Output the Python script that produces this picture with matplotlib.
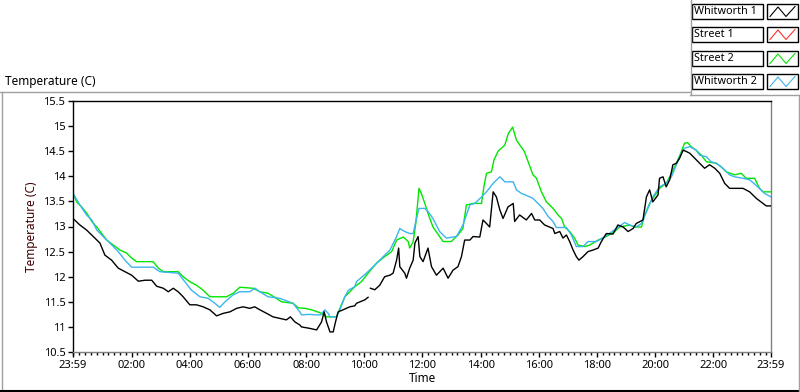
import numpy as np
import matplotlib
matplotlib.use('Agg')
import matplotlib.pyplot as plt
from matplotlib.lines import Line2D
from matplotlib.ticker import FixedLocator, MultipleLocator

plt.rcParams['font.family'] = ['Noto Sans', 'DejaVu Sans']

# hours of the day (23:59 of the day before = -1/60)
w1_t = [-0.017, 0.22, 0.45, 0.68, 0.91, 1.08, 1.31, 1.54, 1.77, 2.0, 2.23, 2.46, 2.69, 2.86, 3.09,
        3.26, 3.43, 3.60, 3.77, 4.0, 4.23, 4.46, 4.69, 4.92, 5.15, 5.38, 5.61, 5.83, 6.06, 6.23,
        6.41, 6.64, 6.86, 7.09, 7.32, 7.46, 7.61, 7.78, 7.84, 8.13, 8.36, 8.53, 8.62, 8.70, 8.82,
        8.93, 9.01, 9.10, 9.27, 9.50, 9.67, 9.73, 10.02, 10.13, 10.17, 10.21, 10.36, 10.53, 10.70,
        10.88, 10.99, 11.11, 11.18, 11.22, 11.39, 11.45, 11.56, 11.68, 11.74, 11.85, 11.91, 12.02,
        12.19, 12.31, 12.48, 12.71, 12.88, 13.05, 13.22, 13.34, 13.45, 13.63, 13.74, 13.97, 14.08,
        14.20, 14.31, 14.43, 14.54, 14.66, 14.77, 14.94, 15.12, 15.17, 15.34, 15.57, 15.75, 15.86,
        16.03, 16.2, 16.49, 16.55, 16.72, 16.83, 16.95, 17.06, 17.18, 17.29, 17.38, 17.52, 17.69,
        17.86, 18.04, 18.15, 18.32, 18.55, 18.72, 18.90, 19.07, 19.24, 19.35, 19.58, 19.70, 19.81,
        19.92, 20.10, 20.15, 20.27, 20.38, 20.50, 20.61, 20.73, 20.84, 20.96, 21.05, 21.19, 21.36,
        21.53, 21.70, 21.87, 22.05, 22.22, 22.39, 22.56, 22.73, 23.02, 23.25, 23.48, 23.71, 23.82,
        23.98]
w1_v = [13.16, 13.03, 12.93, 12.80, 12.67, 12.43, 12.33, 12.17, 12.10, 12.03, 11.91, 11.93, 11.93, 11.81, 11.77,
        11.70, 11.77, 11.70, 11.60, 11.44, 11.44, 11.40, 11.34, 11.22, 11.27, 11.30, 11.37, 11.40, 11.37, 11.40,
        11.34, 11.27, 11.20, 11.17, 11.14, 11.20, 11.10, 11.04, 11.00, 10.97, 10.94, 11.10, 11.30, 11.10, 10.90,
        10.90, 11.10, 11.30, 11.34, 11.40, 11.42, 11.47, 11.54, 11.59, np.nan, 11.77, 11.74, 11.83, 12.00,
        12.03, 12.07, 12.33, 12.57, 12.20, 12.07, 11.97, 12.17, 12.33, 12.67, 12.80, 12.40, 12.30,
        12.57, 12.20, 12.03, 12.17, 11.97, 12.13, 12.20, 12.40, 12.73, 12.73, 12.80, 12.79, 13.13,
        13.06, 12.99, 13.69, 13.59, 13.33, 13.16, 13.39, 13.46, 13.10, 13.23, 13.13, 13.26, 13.13,
        13.13, 13.03, 12.96, 12.86, 12.90, 12.77, 12.83, 12.70, 12.53, 12.40, 12.33, 12.40, 12.50,
        12.53, 12.57, 12.70, 12.86, 12.85, 13.03, 12.99, 12.90, 12.96, 13.06, 13.13, 13.59, 13.73,
        13.49, 13.63, 13.96, 13.99, 13.79, 13.93, 14.23, 14.26, 14.36, 14.52, 14.50, 14.46, 14.36,
        14.26, 14.16, 14.23, 14.16, 14.06, 13.86, 13.76, 13.76, 13.76, 13.69, 13.56, 13.46, 13.41,
        13.41]

# Street 1 has no readings on the chart
s1_t = []
s1_v = []

s2_t = [-0.017, 0.11, 0.28, 0.45, 0.63, 0.80, 0.97, 1.14, 1.37, 1.60, 1.83, 2.0, 2.17, 2.74, 2.92,
        3.09, 3.60, 3.77, 4.0, 4.23, 4.46, 4.69, 5.26, 5.49, 5.72, 6.18, 6.41, 6.69, 6.92, 7.15,
        7.55, 7.73, 7.96, 8.19, 8.53, 8.70, 9.04, 9.16, 9.33, 9.45, 9.67, 9.90, 10.13, 10.42, 10.70,
        10.94, 11.11, 11.34, 11.51, 11.56, 11.68, 11.77, 11.88, 11.96, 12.08, 12.19, 12.36, 12.59,
        12.71, 12.99, 13.22, 13.39, 13.51, 13.74, 14.03, 14.11, 14.20, 14.37, 14.46, 14.6, 14.83,
        14.95, 15.1, 15.23, 15.35, 15.5, 15.69, 15.80, 15.92, 16.09, 16.26, 16.49, 16.66, 16.78,
        16.89, 17.06, 17.23, 17.35, 17.58, 17.75, 18.04, 18.32, 18.61, 18.78, 19.12, 19.30, 19.53,
        19.64, 19.81, 20.04, 20.15, 20.38, 20.56, 20.73, 20.90, 21.01, 21.12, 21.24, 21.41, 21.59,
        21.76, 22.10, 22.27, 22.44, 22.73, 22.96, 23.13, 23.42, 23.59, 23.71, 23.98]
s2_v = [13.67, 13.49, 13.39, 13.27, 13.10, 12.99, 12.86, 12.73, 12.63, 12.53, 12.47, 12.37, 12.30, 12.30, 12.17,
        12.10, 12.10, 12.00, 11.90, 11.83, 11.73, 11.60, 11.60, 11.67, 11.79, 11.77, 11.70, 11.67, 11.59, 11.50,
        11.47, 11.38, 11.37, 11.34, 11.27, 11.20, 11.20, 11.37, 11.60, 11.67, 11.80, 11.90, 12.07, 12.27, 12.40,
        12.50, 12.73, 12.79, 12.70, 12.57, 12.70, 13.06, 13.76, 13.66, 13.46, 13.26, 12.99, 12.80,
        12.70, 12.70, 12.83, 12.96, 13.43, 13.46, 13.46, 13.79, 14.06, 14.09, 14.33, 14.50, 14.62,
        14.85, 14.98, 14.72, 14.62, 14.50, 14.20, 14.03, 13.96, 13.69, 13.49, 13.36, 13.23, 13.16,
        12.99, 12.90, 12.77, 12.63, 12.60, 12.63, 12.73, 12.80, 12.90, 12.99, 13.03, 12.99, 12.99,
        13.23, 13.46, 13.66, 13.76, 13.86, 14.06, 14.26, 14.49, 14.66, 14.67, 14.59, 14.52, 14.42,
        14.29, 14.26, 14.19, 14.09, 14.03, 14.06, 13.96, 13.96, 13.76, 13.69, 13.69]

w2_t = [-0.017, 0.22, 0.45, 0.63, 0.80, 1.02, 1.25, 1.54, 1.77, 2.0, 2.74, 2.97, 3.60, 3.83, 4.06,
        4.35, 4.63, 4.86, 5.03, 5.21, 5.49, 5.72, 6.06, 6.24, 6.41, 6.69, 7.09, 7.55, 7.78, 7.84,
        8.13, 8.30, 8.50, 8.64, 8.76, 8.82, 9.04, 9.16, 9.33, 9.45, 9.67, 9.73, 10.07, 10.36, 10.65,
        10.88, 11.11, 11.22, 11.39, 11.56, 11.68, 11.77, 11.88, 12.08, 12.19, 12.36, 12.59, 12.82,
        13.17, 13.39, 13.63, 13.80, 14.03, 14.20, 14.43, 14.66, 14.83, 15.12, 15.23, 15.40, 15.69,
        15.80, 15.92, 16.14, 16.32, 16.49, 16.60, 16.95, 17.12, 17.29, 17.52, 17.69, 17.98, 18.27,
        18.67, 18.95, 19.12, 19.35, 19.53, 19.70, 19.92, 20.15, 20.38, 20.56, 20.73, 20.90, 21.01,
        21.19, 21.41, 21.53, 21.76, 21.93, 22.10, 22.33, 22.56, 22.73, 23.02, 23.25, 23.53, 23.76,
        23.98]
w2_v = [13.66, 13.43, 13.23, 13.13, 12.93, 12.80, 12.67, 12.50, 12.33, 12.19, 12.19, 12.10, 12.07, 11.90, 11.73,
        11.60, 11.57, 11.47, 11.39, 11.50, 11.64, 11.70, 11.70, 11.77, 11.70, 11.60, 11.57, 11.47, 11.30, 11.24,
        11.25, 11.24, 11.24, 11.34, 11.27, 11.20, 11.20, 11.34, 11.60, 11.73, 11.80, 11.90, 12.07, 12.23, 12.40,
        12.53, 12.80, 12.96, 12.90, 12.86, 12.86, 13.10, 13.36, 13.36, 13.30, 13.16, 12.90, 12.77,
        12.80, 13.03, 13.43, 13.46, 13.59, 13.69, 13.86, 13.99, 13.89, 13.89, 13.73, 13.66, 13.59,
        13.56, 13.49, 13.36, 13.20, 13.10, 12.98, 12.98, 12.83, 12.60, 12.60, 12.70, 12.70, 12.80,
        12.96, 13.08, 13.03, 12.99, 13.06, 13.29, 13.59, 13.79, 13.86, 13.99, 14.23, 14.46, 14.56,
        14.59, 14.52, 14.42, 14.39, 14.29, 14.26, 14.16, 14.03, 13.99, 13.96, 13.93, 13.79, 13.66,
        13.59]

names = ['Whitworth 1', 'Street 1', 'Street 2', 'Whitworth 2']
colors = ['black', '#ff3030', '#00e600', '#3cb4f0']

x_ticks = [-1 / 60, 2, 4, 6, 8, 10, 12, 14, 16, 18, 20, 22, 23 + 59 / 60]
x_labels = ['23:59', '02:00', '04:00', '06:00', '08:00', '10:00', '12:00', '14:00',
            '16:00', '18:00', '20:00', '22:00', '23:59']
y_ticks = [10.5, 11, 11.5, 12, 12.5, 13, 13.5, 14, 14.5, 15, 15.5]

W, H = 800, 392
fig = plt.figure(figsize=(W / 100, H / 100), dpi=100)
fig.patch.set_facecolor('white')

ax = fig.add_axes([73 / W, 1 - 352 / H, (771 - 73) / W, (352 - 101) / H])
series = [(w1_t, w1_v), (s1_t, s1_v), (s2_t, s2_v), (w2_t, w2_v)]
for (t, v), c in zip(series, colors):
    if len(t):
        ax.plot(t, v, color=c, lw=1.0)
# black on top like the reference
ax.lines[0].set_zorder(3)

ax.set_xlim(x_ticks[0], x_ticks[-1])
ax.set_ylim(10.5, 15.5)
ax.xaxis.set_major_locator(FixedLocator(x_ticks))
ax.set_xticklabels(x_labels)
ax.xaxis.set_minor_locator(MultipleLocator(0.2))
ax.set_yticks(y_ticks)
ax.set_yticklabels(['%g' % y for y in y_ticks])
ax.tick_params(axis='both', which='major', labelsize=8, colors='black', length=3.5, width=1, pad=2)
ax.tick_params(axis='x', which='minor', length=2, width=1, color='black')
ax.spines['left'].set_color('black')
ax.spines['top'].set_color('black')
ax.spines['right'].set_color('#808080')
ax.spines['bottom'].set_color('#808080')
for s in ax.spines.values():
    s.set_linewidth(1)
ax.set_xlabel('Time', fontsize=8.5, labelpad=1)
ax.set_ylabel('Temperature (C)', fontsize=8.5, labelpad=4, color='#400000')

# panel frame
grey = '#a0a0a0'
fig.add_artist(Line2D([0, 690 / W], [1 - 92 / H] * 2, color=grey, lw=1))
fig.add_artist(Line2D([1.5 / W] * 2, [1 - 92 / H, 0], color=grey, lw=1))
fig.add_artist(Line2D([0, 1], [0.7 / H] * 2, color='black', lw=1.5))
fig.add_artist(Line2D([690.5 / W] * 2, [1, 1 - 95 / H], color=grey, lw=1))
fig.add_artist(Line2D([690 / W, 1], [1 - 95 / H] * 2, color=grey, lw=1))
fig.add_artist(Line2D([798.5 / W] * 2, [1 - 95 / H, 0], color=grey, lw=1))
fig.text(5 / W, 1 - 81 / H, 'Temperature (C)', fontsize=8.5, va='center', ha='left')

# legend boxes
row_tops = [4, 27, 51, 74]
for name, c, top in zip(names, colors, row_tops):
    y0 = 1 - (top + 15) / H
    hgt = 15 / H
    fig.add_artist(plt.Rectangle((692 / W, y0), 71 / W, hgt, transform=fig.transFigure,
                                 facecolor='white', edgecolor='black', lw=1))
    fig.text(694.5 / W, y0 + hgt / 2, name, fontsize=7.8, va='center', ha='left')
    fig.add_artist(plt.Rectangle((767 / W, y0), 31 / W, hgt, transform=fig.transFigure,
                                 facecolor='white', edgecolor='black', lw=1))
    zx = np.array([770, 778, 786, 795]) / W
    zy = y0 + np.array([2.5, 12, 2.5, 12.5]) / H
    fig.add_artist(Line2D(zx, zy, color=c, lw=0.8))

fig.savefig('out.png', dpi=100)
